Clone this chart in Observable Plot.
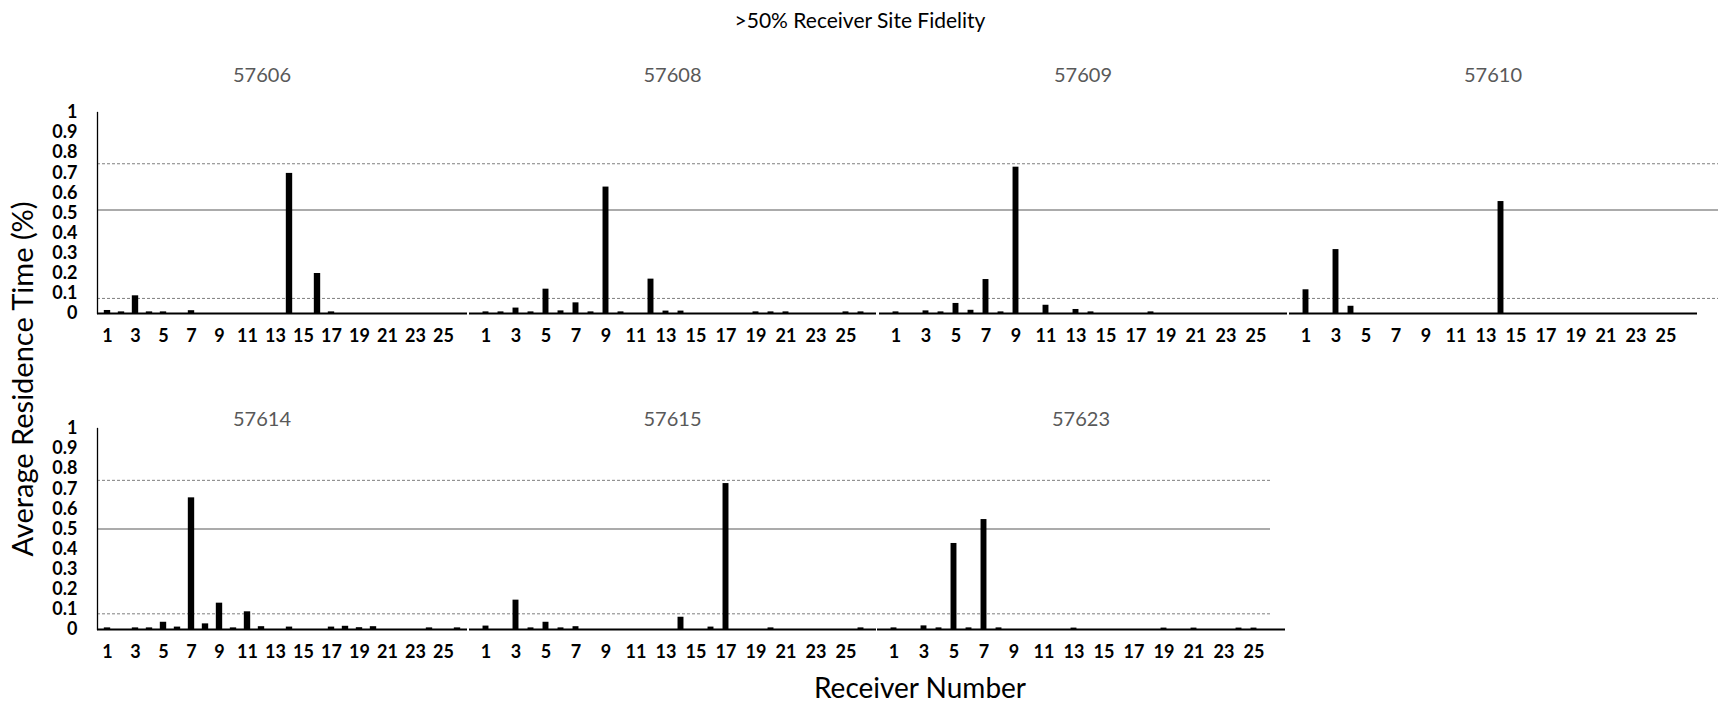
<!DOCTYPE html>
<html><head><meta charset="utf-8">
<script src="https://cdn.jsdelivr.net/npm/d3@7"></script>
<script src="https://cdn.jsdelivr.net/npm/@observablehq/plot@0.6"></script>
<style>
body{margin:0;background:#fff;}
#chart{position:relative;width:1722px;height:705px;font-family:Lato,'Open Sans',sans-serif;overflow:hidden;background:#fff;}
.lbl{position:absolute;white-space:nowrap;line-height:1;transform:translate(-50%,-50%);}
</style></head><body><div id="chart"></div>
<script>
// ---- data ----
const receivers = [1,2,3,4,5,6,7,8,9,10,11,12,13,14,15,16,17,18,19,20,21,22,23,24,25,26];
const tickLabels = [1,3,5,7,9,11,13,15,17,19,21,23,25];
const yTicks = [0,0.1,0.2,0.3,0.4,0.5,0.6,0.7,0.8,0.9,1];
const tagsTop = ["57606","57608","57609","57610"];
const tagsBottom = ["57614","57615","57623"];
const tag57606 = [0.015,0.008,0.088,0.008,0.008,0,0.014,0,0,0,0,0,0,0.697,0,0.199,0.008,0,0,0,0,0,0,0,0,0];
const tag57608 = [0.008,0.008,0.027,0.008,0.121,0.013,0.053,0.008,0.629,0.008,0,0.171,0.012,0.012,0,0,0,0,0.008,0.008,0.008,0,0,0,0.008,0.008];
const tag57609 = [0.008,0,0.013,0.008,0.05,0.016,0.169,0.008,0.728,0,0.041,0,0.02,0.008,0,0,0,0.008,0,0,0,0,0,0,0,0];
const tag57610 = [0.118,0,0.318,0.036,0,0,0,0,0,0,0,0,0,0.557,0,0,0,0,0,0,0,0,0,0,0,0];
const tag57614 = [0.008,0,0.008,0.008,0.036,0.012,0.655,0.028,0.131,0.008,0.088,0.014,0,0.012,0,0,0.012,0.016,0.009,0.014,0,0,0,0.008,0,0.008];
const tag57615 = [0.017,0,0.146,0.008,0.036,0.008,0.014,0,0,0,0,0,0,0.061,0,0.012,0.726,0,0,0.008,0,0,0,0,0,0.008];
const tag57623 = [0.008,0,0.018,0.008,0.428,0.008,0.547,0.008,0,0,0,0,0.007,0,0,0,0,0,0.007,0,0.007,0,0,0.007,0.007,0];
// reference lines: [lower dashed, solid, upper dashed]
const refTop = [0.075, 0.515, 0.745];
const refBottom = [0.078, 0.50, 0.742];
const mainTitle = ">50% Receiver Site Fidelity";
const yTitle = "Average Residence Time (%)";
const xTitle = "Receiver Number";

// ---- layout ----
const chart = document.getElementById("chart");
const FONT = "Lato, 'Open Sans', sans-serif";
const MT = 12, PH = 201, MB = 46, H = MT + PH + MB;

const rows = [
  {top: 100, titleY: 74, refs: refTop, refRight: 1718,
   panels: [
     {tag: tagsTop[0], values: tag57606, x0: 97, x1: 467, yAxis: true},
     {tag: tagsTop[1], values: tag57608, x0: 469, x1: 876},
     {tag: tagsTop[2], values: tag57609, x0: 879, x1: 1287},
     {tag: tagsTop[3], values: tag57610, x0: 1289, x1: 1697}
   ]},
  {top: 416, titleY: 418, refs: refBottom, refRight: 1270,
   panels: [
     {tag: tagsBottom[0], values: tag57614, x0: 97, x1: 467, yAxis: true},
     {tag: tagsBottom[1], values: tag57615, x0: 469, x1: 876},
     {tag: tagsBottom[2], values: tag57623, x0: 877, x1: 1285}
   ]}
];

function place(el, left, top) {
  el.style.position = "absolute";
  el.style.left = left + "px";
  el.style.top = top + "px";
  chart.appendChild(el);
}
function label(text, cx, cy, css) {
  const d = document.createElement("div");
  d.className = "lbl";
  d.textContent = text;
  d.style.left = cx + "px";
  d.style.top = cy + "px";
  Object.assign(d.style, css || {});
  chart.appendChild(d);
  return d;
}

for (const row of rows) {
  const refPlot = Plot.plot({
    width: 1722, height: H,
    marginLeft: 97, marginRight: 1722 - row.refRight, marginTop: MT, marginBottom: MB,
    x: {axis: null}, y: {domain: [0, 1], axis: null},
    style: {background: "transparent", overflow: "visible"},
    marks: [
      Plot.ruleY([row.refs[1]], {stroke: "#595959", strokeWidth: 1.2}),
      Plot.ruleY([row.refs[0], row.refs[2]], {stroke: "#7f7f7f", strokeWidth: 1, strokeDasharray: "3,2"})
    ]
  });
  place(refPlot, 0, row.top);

  for (const p of row.panels) {
    const ml = p.yAxis ? p.x0 : 2, mr = 2;
    const w = p.x1 - p.x0;
    const step = w / receivers.length;
    const inset = Math.max(0, (step - 6.6) / 2);
    const data = receivers.map((r, i) => ({receiver: r, value: p.values[i]}));
    const marks = [
      Plot.barY(data, {x: "receiver", y: "value", fill: "black", insetLeft: inset, insetRight: inset}),
      Plot.ruleY([0], {stroke: "black", strokeWidth: 2}),
      Plot.axisX({ticks: tickLabels, tickSize: 0, tickPadding: 16, fontSize: 18, fontWeight: "bold", label: null, fill: "black"})
    ];
    if (p.yAxis) {
      marks.push(Plot.frame({anchor: "left", stroke: "black", strokeWidth: 1.3}));
      marks.push(Plot.axisY({ticks: yTicks, tickSize: 0, tickPadding: 20,
        tickFormat: d => String(+d.toFixed(1)), fontSize: 18, fontWeight: "bold", label: null, fill: "black"}));
    }
    const svg = Plot.plot({
      width: w + ml + mr, height: H,
      marginLeft: ml, marginRight: mr, marginTop: MT, marginBottom: MB,
      x: {type: "band", domain: receivers, padding: 0},
      y: p.yAxis ? {domain: [0, 1]} : {domain: [0, 1], axis: null},
      style: {background: "transparent", fontFamily: FONT, color: "black", overflow: "visible"},
      marks
    });
    place(svg, p.x0 - ml, row.top);
    const cx = p.yAxis ? (57 + p.x1) / 2 : (p.x0 + p.x1) / 2;
    label(p.tag, cx, row.titleY, {fontSize: "20px", color: "#595959"});
  }
}

label(mainTitle, 860, 19, {fontSize: "21px", color: "#000"});
label(xTitle, 920, 687, {fontSize: "28px", color: "#000"});
label(yTitle, 21, 379, {fontSize: "29px", color: "#000", transform: "translate(-50%,-50%) rotate(-90deg)"});
</script></body></html>
